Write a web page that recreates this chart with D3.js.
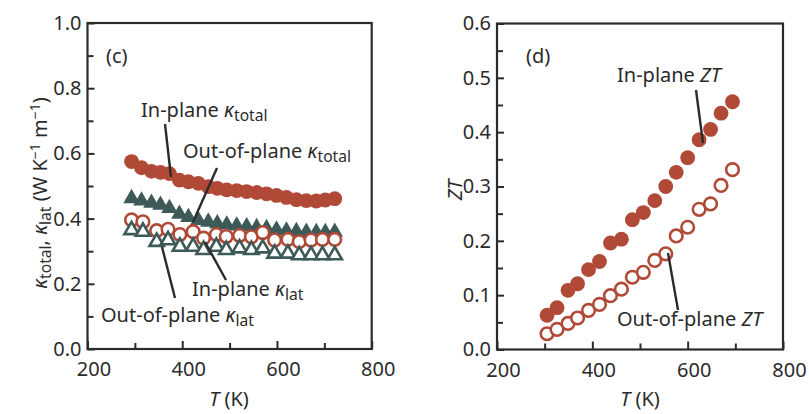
<!DOCTYPE html>
<html><head><meta charset="utf-8">
<script src="https://cdn.jsdelivr.net/npm/d3@7"></script>
<style>
body{margin:0;background:#fff}
text{font-family:"Noto Sans",sans-serif;fill:#2b2b2b}
</style>
</head><body>
<svg id="chart" width="809" height="414"></svg>
<script>
// ---- data: panel (c) thermal conductivity ----
const tFilled = [293,314,335,354,373,394,413,434,455,474,494,515,536,557,578,599,620,641,662,683,702,722];
const kTotalIn  = [0.575,0.556,0.545,0.542,0.538,0.518,0.513,0.508,0.498,0.493,0.488,0.486,0.483,0.480,0.476,0.471,0.465,0.458,0.455,0.454,0.457,0.461];
const kTotalOut = [0.462,0.455,0.448,0.442,0.432,0.414,0.404,0.395,0.390,0.385,0.381,0.378,0.376,0.373,0.370,0.366,0.363,0.361,0.359,0.358,0.358,0.359];
const tHollow = [293,317,346,370,395,423,445,472,493,521,546,570,595,623,647,672,696,722];
const kLatIn  = [0.396,0.390,0.363,0.367,0.351,0.360,0.340,0.351,0.345,0.348,0.344,0.357,0.334,0.336,0.329,0.334,0.336,0.336];
const kLatOut = [0.365,0.360,0.329,0.334,0.314,0.314,0.304,0.314,0.304,0.309,0.304,0.309,0.293,0.293,0.288,0.288,0.288,0.288];
// ---- data: panel (d) ZT ----
const tZT = [305,326,349,369,392,415,438,461,484,507,531,554,576,600,624,648,670,694];
const ztIn  = [0.063,0.077,0.109,0.121,0.147,0.162,0.196,0.203,0.239,0.252,0.274,0.300,0.326,0.353,0.386,0.405,0.435,0.456];
const ztOut = [0.029,0.037,0.048,0.058,0.072,0.083,0.099,0.111,0.133,0.142,0.164,0.176,0.209,0.225,0.258,0.268,0.302,0.331];
// ---- ticks ----
const xMajor = [200,400,600,800], xMinor = [300,500,700];
const yLMajor = [0,0.2,0.4,0.6,0.8,1.0], yLMinor = [0.1,0.3,0.5,0.7,0.9];
const yRMajor = [0,0.1,0.2,0.3,0.4,0.5,0.6], yRMinor = [0.05,0.15,0.25,0.35,0.45,0.55];

const RED = "#b04a37", TEAL = "#3d5a59", INK = "#2b2b2b";
const FS = 20;
const svg = d3.select("#chart");

function panel(x, y, yMajor, yMinor, fmt) {
  const [x0, x1] = x.range(), [y0, y1] = y.range();
  const g = svg.append("g");
  const ax = (axis, tr) => {
    const a = g.append("g").attr("transform", tr).call(axis);
    a.select(".domain").remove();
    a.selectAll("line").attr("stroke", INK).attr("stroke-width", 2);
    a.selectAll("text").attr("font-size", FS).attr("fill", INK).style("font-family", '"Noto Sans",sans-serif');
    return a;
  };
  ax(d3.axisBottom(x).tickValues(xMajor).tickSize(-8).tickPadding(13).tickFormat(d3.format("d")), `translate(0,${y0})`)
    .selectAll("text").attr("dx", 6);
  ax(d3.axisBottom(x).tickValues(xMinor).tickSize(-6).tickFormat(""), `translate(0,${y0})`);
  ax(d3.axisLeft(y).tickValues(yMajor).tickSize(-7).tickPadding(6).tickFormat(fmt), `translate(${x0},0)`);
  ax(d3.axisLeft(y).tickValues(yMinor).tickSize(-6).tickFormat(""), `translate(${x0},0)`);
  g.append("rect").attr("x", x0).attr("y", y1).attr("width", x1 - x0).attr("height", y0 - y1)
    .attr("fill", "none").attr("stroke", INK).attr("stroke-width", 2.2);
  return g;
}

// ---------- panel (c) ----------
const xL = d3.scaleLinear([200, 800], [87.5, 371.7]);
const yL = d3.scaleLinear([0, 1], [349, 23]);
const gL = panel(xL, yL, yLMajor, yLMinor, d3.format(".1f"));

const tri = d3.symbol(d3.symbolTriangle, 118);
const triH = d3.symbol(d3.symbolTriangle, 88);

gL.append("g").selectAll("circle").data(tFilled.map((t, i) => [t, kTotalIn[i]])).join("circle")
  .attr("cx", d => xL(d[0])).attr("cy", d => yL(d[1])).attr("r", 7.4).attr("fill", RED);
gL.append("g").selectAll("path").data(tFilled.map((t, i) => [t, kTotalOut[i]])).join("path")
  .attr("d", tri).attr("transform", d => `translate(${xL(d[0])},${yL(d[1])})`).attr("fill", TEAL);
gL.append("g").selectAll("circle").data(tHollow.map((t, i) => [t, kLatIn[i]])).join("circle")
  .attr("cx", d => xL(d[0])).attr("cy", d => yL(d[1])).attr("r", 6.3)
  .attr("fill", "#fff").attr("stroke", RED).attr("stroke-width", 2.6);
gL.append("g").selectAll("path").data(tHollow.map((t, i) => [t, kLatOut[i]])).join("path")
  .attr("d", triH).attr("transform", d => `translate(${xL(d[0])},${yL(d[1])})`)
  .attr("fill", "#fff").attr("stroke", TEAL).attr("stroke-width", 2.6);

// ---------- panel (d) ----------
const xR = d3.scaleLinear([200, 800], [497, 783]);
const yR = d3.scaleLinear([0, 0.6], [349.5, 23.5]);
const gR = panel(xR, yR, yRMajor, yRMinor, d3.format(".1f"));
gR.append("g").selectAll("circle").data(tZT.map((t, i) => [t, ztIn[i]])).join("circle")
  .attr("cx", d => xR(d[0])).attr("cy", d => yR(d[1])).attr("r", 7.4).attr("fill", RED);
gR.append("g").selectAll("circle").data(tZT.map((t, i) => [t, ztOut[i]])).join("circle")
  .attr("cx", d => xR(d[0])).attr("cy", d => yR(d[1])).attr("r", 6.3)
  .attr("fill", "#fff").attr("stroke", RED).attr("stroke-width", 2.6);

// ---------- annotations ----------
const line = (x1, y1, x2, y2) => svg.append("line").attr("x1", x1).attr("y1", y1).attr("x2", x2).attr("y2", y2)
  .attr("stroke", INK).attr("stroke-width", 2.4);
function label(x, y, parts, size = FS, anchor = "start") {
  const t = svg.append("text").attr("x", x).attr("y", y).attr("font-size", size).attr("text-anchor", anchor);
  parts.forEach(p => {
    const s = t.append("tspan").text(p.t);
    if (p.i) s.attr("font-style", "italic");
    if (p.sub) s.attr("font-size", size * 0.78).attr("dy", 4);
    if (p.up) s.attr("dy", -4);
    if (p.sup) s.attr("font-size", size * 0.7).attr("dy", -7);
    if (p.down) s.attr("dy", 7);
  });
  return t;
}
label(106, 63, [{t: "(c)"}]);
label(526, 63, [{t: "(d)"}]);

line(165, 124, 171, 177);
label(141, 117, [{t: "In-plane "}, {t: "κ", i: 1}, {t: "total", sub: 1}]);
line(217, 168, 193, 222);
label(183, 158, [{t: "Out-of-plane "}, {t: "κ", i: 1}, {t: "total", sub: 1}]);
line(205, 242, 226, 280);
label(192, 296, [{t: "In-plane "}, {t: "κ", i: 1}, {t: "lat", sub: 1}]);
line(162, 247, 175, 298);
label(101, 322, [{t: "Out-of-plane  "}, {t: "κ", i: 1}, {t: "lat", sub: 1}]);

line(696, 90, 703, 143);
label(617, 82, [{t: "In-plane "}, {t: "ZT", i: 1}]);
line(668, 253, 678, 310);
label(617, 326, [{t: "Out-of-plane "}, {t: "ZT", i: 1}]);

// axis titles
label(229, 406, [{t: "T", i: 1}, {t: " (K)"}], FS, "middle");
label(640, 406, [{t: "T", i: 1}, {t: " (K)"}], FS, "middle");
const yt = label(0, 0, [{t: "κ", i: 1}, {t: "total", sub: 1}, {t: ", ", up: 1}, {t: "κ", i: 1}, {t: "lat", sub: 1},
  {t: " (W K", up: 1}, {t: "−1", sup: 1}, {t: " m", down: 1}, {t: "−1", sup: 1}, {t: ")", down: 1}], FS, "middle");
yt.attr("transform", "translate(47,193) rotate(-90)");
label(0, 0, [{t: "ZT", i: 1}], FS, "middle").attr("transform", "translate(462,190) rotate(-90)");
</script>
</body></html>
